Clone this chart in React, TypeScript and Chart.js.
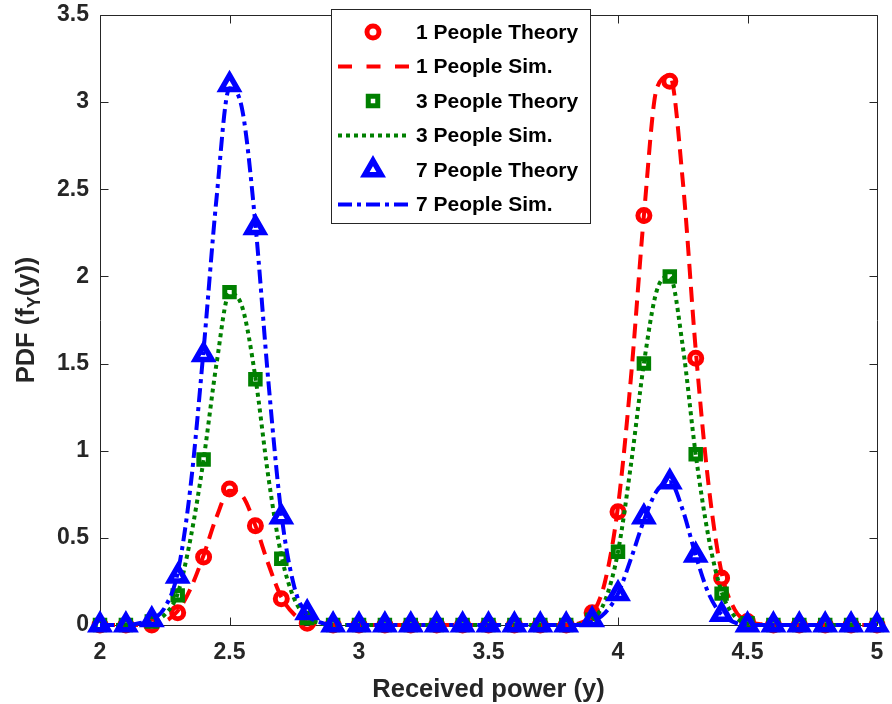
import React, { useEffect, useRef } from 'react';
import { Chart, registerables } from 'chart.js';

Chart.register(...registerables);

// ---------- data ----------
const theoryX = [2.0, 2.1, 2.2, 2.3, 2.4, 2.5, 2.6, 2.7, 2.8, 2.9, 3.0, 3.1, 3.2, 3.3, 3.4, 3.5, 3.6, 3.7, 3.8, 3.9, 4.0, 4.1, 4.2, 4.3, 4.4, 4.5, 4.6, 4.7, 4.8, 4.9, 5.0];
const theory1 = [0, 0, 0, 0.07, 0.39, 0.78, 0.57, 0.15, 0.01, 0, 0, 0, 0, 0, 0, 0, 0, 0, 0, 0.07, 0.65, 2.35, 3.12, 1.53, 0.27, 0.02, 0, 0, 0, 0, 0];
const theory3 = [0, 0, 0.02, 0.17, 0.95, 1.91, 1.41, 0.38, 0.04, 0, 0, 0, 0, 0, 0, 0, 0, 0, 0, 0.03, 0.42, 1.50, 2.00, 0.98, 0.18, 0.01, 0, 0, 0, 0, 0];
const theory7 = [0, 0, 0.03, 0.28, 1.55, 3.10, 2.28, 0.62, 0.07, 0, 0, 0, 0, 0, 0, 0, 0, 0, 0, 0.03, 0.18, 0.62, 0.82, 0.40, 0.06, 0, 0, 0, 0, 0, 0];

const simX = [2.0, 2.1, 2.15, 2.2, 2.25, 2.3, 2.35, 2.4, 2.45, 2.5, 2.55, 2.6, 2.65, 2.7, 2.75, 2.8, 2.85, 2.9, 3.0, 3.5, 3.8, 3.85, 3.9, 3.95, 4.0, 4.05, 4.1, 4.15, 4.2, 4.25, 4.3, 4.35, 4.4, 4.45, 4.5, 4.55, 4.6, 5.0];
const sim1 = [0, 0, 0, 0.005, 0.02, 0.08, 0.21, 0.4, 0.62, 0.77, 0.74, 0.57, 0.35, 0.16, 0.06, 0.015, 0.003, 0, 0, 0, 0, 0.01, 0.06, 0.25, 0.68, 1.42, 2.35, 3.08, 3.15, 2.55, 1.58, 0.8, 0.3, 0.09, 0.02, 0.005, 0, 0];
const sim3 = [0, 0, 0.005, 0.02, 0.06, 0.18, 0.5, 0.95, 1.5, 1.9, 1.82, 1.42, 0.85, 0.4, 0.15, 0.045, 0.01, 0, 0, 0, 0, 0.005, 0.03, 0.14, 0.42, 0.92, 1.5, 1.92, 2.0, 1.6, 0.98, 0.5, 0.19, 0.05, 0.01, 0, 0, 0];
const sim7 = [0, 0, 0.01, 0.03, 0.1, 0.3, 0.8, 1.58, 2.45, 3.08, 2.95, 2.3, 1.4, 0.64, 0.22, 0.06, 0.015, 0, 0, 0, 0, 0, 0.02, 0.07, 0.18, 0.38, 0.6, 0.77, 0.82, 0.66, 0.4, 0.18, 0.06, 0.015, 0, 0, 0, 0];

const xTicks = [2, 2.5, 3, 3.5, 4, 4.5, 5];
const yTicks = [0, 0.5, 1, 1.5, 2, 2.5, 3, 3.5];
const seriesLabels = ['1 People Theory', '1 People Sim.', '3 People Theory', '3 People Sim.', '7 People Theory', '7 People Sim.'];

// ---------- styles ----------
const RED = '#ff0000';
const GREEN = '#008000';
const BLUE = '#0000ff';
const AXIS = '#262626';
const FONT = '"Liberation Sans", Arial, Helvetica, sans-serif';

const pts = (xs: number[], ys: number[]) => xs.map((x, i) => ({ x, y: ys[i] }));

function drawMarker(ctx: CanvasRenderingContext2D, style: string, x: number, y: number, r: number, lw: number, color: string) {
  ctx.save();
  ctx.setLineDash([]);
  ctx.strokeStyle = color;
  ctx.lineWidth = lw;
  ctx.beginPath();
  if (style === 'circle') {
    ctx.arc(x, y, r, 0, Math.PI * 2);
  } else if (style === 'rect') {
    const s = r * Math.SQRT1_2;
    ctx.rect(x - s, y - s, 2 * s, 2 * s);
  } else if (style === 'triangle') {
    for (let k = 0; k < 3; k++) {
      const a = (k * 2 * Math.PI) / 3;
      const px = x + Math.sin(a) * r;
      const py = y - Math.cos(a) * r;
      if (k === 0) ctx.moveTo(px, py);
      else ctx.lineTo(px, py);
    }
    ctx.closePath();
  }
  ctx.stroke();
  ctx.restore();
}

const framePlugin = {
  id: 'matlabFrame',
  beforeDatasetsDraw(chart: any) {
    const { ctx, chartArea: a, scales } = chart;
    const xs = scales.x;
    const ys = scales.y;
    ctx.save();
    ctx.strokeStyle = AXIS;
    ctx.lineWidth = 1;
    const L = Math.round(a.left) + 0.5;
    const R = Math.round(a.right) + 0.5;
    const T = Math.round(a.top) + 0.5;
    const B = Math.round(a.bottom) + 0.5;
    ctx.beginPath();
    ctx.rect(L, T, R - L, B - T);
    ctx.stroke();
    const tl = 8;
    ctx.beginPath();
    xTicks.forEach((v) => {
      const px = Math.round(xs.getPixelForValue(v)) + 0.5;
      ctx.moveTo(px, B);
      ctx.lineTo(px, B - tl);
      ctx.moveTo(px, T);
      ctx.lineTo(px, T + tl);
    });
    yTicks.forEach((v) => {
      const py = Math.round(ys.getPixelForValue(v)) + 0.5;
      ctx.moveTo(L, py);
      ctx.lineTo(L + tl, py);
      ctx.moveTo(R, py);
      ctx.lineTo(R - tl, py);
    });
    ctx.stroke();
    ctx.restore();
  },
  afterDraw(chart: any) {
    const { ctx, chartArea: a } = chart;
    ctx.save();
    // x title
    ctx.fillStyle = AXIS;
    ctx.font = `bold 25.5px ${FONT}`;
    ctx.textAlign = 'center';
    ctx.textBaseline = 'alphabetic';
    ctx.fillText('Received power (y)', (a.left + a.right) / 2, 697);

    // y title with subscript
    const cy = (a.top + a.bottom) / 2;
    ctx.translate(34, cy);
    ctx.rotate(-Math.PI / 2);
    const big = `bold 25.5px ${FONT}`;
    const small = `bold 18px ${FONT}`;
    const p1 = 'PDF (f';
    const p2 = 'Y';
    const p3 = '(y))';
    ctx.font = big;
    const w1 = ctx.measureText(p1).width;
    const w3 = ctx.measureText(p3).width;
    ctx.font = small;
    const w2 = ctx.measureText(p2).width;
    const total = w1 + w2 + w3;
    let sx = -total / 2;
    ctx.textAlign = 'left';
    ctx.font = big;
    ctx.fillText(p1, sx, 0);
    sx += w1;
    ctx.font = small;
    ctx.fillText(p2, sx, 6);
    sx += w2;
    ctx.font = big;
    ctx.fillText(p3, sx, 0);
    ctx.restore();

    // legend
    ctx.save();
    const bx = 331, by = 9, bw = 259, bh = 214;
    ctx.fillStyle = '#ffffff';
    ctx.fillRect(bx, by, bw, bh);
    ctx.strokeStyle = AXIS;
    ctx.lineWidth = 1;
    ctx.strokeRect(bx + 0.5, by + 0.5, bw, bh);
    const rowY = [32, 66.5, 101, 135.5, 170, 204.5];
    chart.data.datasets.forEach((ds: any, i: number) => {
      const y = rowY[i];
      if (ds.showLine === false) {
        drawMarker(ctx, ds.pointStyle, 373, y, ds.pointRadius, ds.pointBorderWidth, ds.borderColor);
      } else {
        ctx.save();
        ctx.strokeStyle = ds.borderColor;
        ctx.lineWidth = ds.borderWidth;
        ctx.setLineDash(ds.legendDash || ds.borderDash || []);
        ctx.beginPath();
        ctx.moveTo(338, y);
        ctx.lineTo(409, y);
        ctx.stroke();
        ctx.restore();
      }
      ctx.fillStyle = '#000000';
      ctx.font = `bold 21px ${FONT}`;
      ctx.textAlign = 'left';
      ctx.textBaseline = 'middle';
      ctx.fillText(ds.label, 416, y + 1);
    });
    ctx.restore();
  },
};

export default function App() {
  const canvasRef = useRef<HTMLCanvasElement | null>(null);

  useEffect(() => {
    document.body.style.margin = '0';
    const canvas = canvasRef.current;
    if (!canvas) return;

    const theoryCommon = { showLine: false, backgroundColor: 'rgba(0,0,0,0)', clip: false as any };
    const simCommon = { pointRadius: 0, borderWidth: 4, fill: false, cubicInterpolationMode: 'monotone' as const, clip: false as any, borderCapStyle: 'butt' as const };

    const chart = new Chart(canvas, {
      type: 'line',
      data: {
        datasets: [
          { ...theoryCommon, label: seriesLabels[0], data: pts(theoryX, theory1), borderColor: RED, pointStyle: 'circle', pointRadius: 6, pointBorderWidth: 5, order: 6 } as any,
          { ...simCommon, label: seriesLabels[1], data: pts(simX, sim1), borderColor: RED, borderDash: [15, 8], legendDash: [14, 14.5], order: 5 } as any,
          { ...theoryCommon, label: seriesLabels[2], data: pts(theoryX, theory3), borderColor: GREEN, pointStyle: 'rect', pointRadius: 6.7, pointBorderWidth: 5, order: 4 } as any,
          { ...simCommon, label: seriesLabels[3], data: pts(simX, sim3), borderColor: GREEN, borderDash: [4, 4], order: 3 } as any,
          { ...theoryCommon, label: seriesLabels[4], data: pts(theoryX, theory7), borderColor: BLUE, pointStyle: 'triangle', pointRadius: 9.5, pointBorderWidth: 5.5, order: 2 } as any,
          { ...simCommon, label: seriesLabels[5], data: pts(simX, sim7), borderColor: BLUE, borderDash: [14, 5, 4, 5], order: 1 } as any,
        ],
      },
      options: {
        animation: false,
        responsive: false,
        events: [],
        layout: { padding: { top: 9, right: 11, left: 0, bottom: 0 } },
        plugins: {
          legend: { display: false },
          tooltip: { enabled: false },
        },
        scales: {
          x: {
            type: 'linear',
            min: 2,
            max: 5,
            grid: { display: false, drawTicks: false },
            border: { display: false },
            afterBuildTicks: (s: any) => {
              s.ticks = xTicks.map((v) => ({ value: v }));
            },
            afterFit: (s: any) => {
              s.height = 79;
              s.paddingLeft = 0;
              s.paddingRight = 0;
            },
            ticks: {
              padding: 14,
              color: AXIS,
              font: { family: FONT, size: 23, weight: 'bold' },
              maxRotation: 0,
              autoSkip: false,
              callback: (v: any) => String(v),
            },
          },
          y: {
            type: 'linear',
            min: 0,
            max: 3.5,
            grid: { display: false, drawTicks: false },
            border: { display: false },
            afterBuildTicks: (s: any) => {
              s.ticks = yTicks.map((v) => ({ value: v }));
            },
            afterFit: (s: any) => {
              s.width = 100;
              s.paddingTop = 0;
              s.paddingBottom = 0;
            },
            ticks: {
              padding: 11,
              color: AXIS,
              font: { family: FONT, size: 23, weight: 'bold' },
              autoSkip: false,
              callback: (v: any) => String(v),
            },
          },
        },
      },
      plugins: [framePlugin],
    });

    return () => chart.destroy();
  }, []);

  return (
    <div style={{ position: 'relative', width: 892, height: 704 }}>
      <canvas ref={canvasRef} width={892} height={704} style={{ display: 'block', width: 892, height: 704 }} />
    </div>
  );
}
